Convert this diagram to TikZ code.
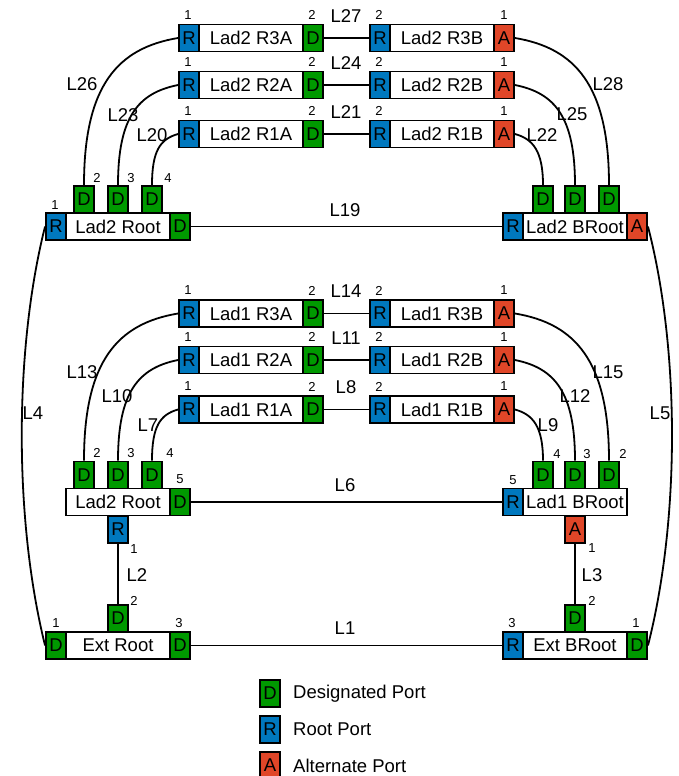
\documentclass[tikz,border=0pt]{standalone}
\usepackage{fontspec}
\setmainfont{Liberation Sans}
\definecolor{dgreen}{RGB}{0,153,0}
\definecolor{rblue}{RGB}{0,120,190}
\definecolor{ared}{RGB}{224,70,40}
\begin{document}
\begin{tikzpicture}[x=1pt,y=-1pt,
  box/.style={draw, line width=1.9pt, fill=white, minimum width=104pt, minimum height=27pt, inner sep=0pt, font=\fontsize{18.5}{20}\selectfont},
  port/.style={draw, line width=1.9pt, minimum width=20pt, minimum height=27pt, inner sep=0pt, font=\fontsize{18.5}{20}\selectfont},
  dp/.style={port, fill=dgreen},
  rp/.style={port, fill=rblue},
  ap/.style={port, fill=ared},
  num/.style={font=\fontsize{13}{14}\selectfont, inner sep=0pt},
  lbl/.style={font=\fontsize{18.5}{20}\selectfont, inner sep=0pt},
  link/.style={line width=1.8pt}]
\useasboundingbox (0,0) rectangle (678,776);

% ---------- Ladder rows ----------
\foreach \r/\y/\l/\ld in {3/38/27/2, 2/85/24/2, 1/134/21/2, 3/313.5/14/1, 2/360/11/1, 1/409.5/8/1} {
  \node[box] (L\ld r\r A) at (251,\y) {Lad\ld\ R\r A};
  \node[rp] (L\ld r\r AR) at (189,\y) {R};
  \node[dp] (L\ld r\r AD) at (313,\y) {D};
  \node[box] (L\ld r\r B) at (442,\y) {Lad\ld\ R\r B};
  \node[rp] (L\ld r\r BR) at (380,\y) {R};
  \node[ap] (L\ld r\r BA) at (504,\y) {A};
  \node[num] (n\ld r\r a) at (188,\y-23) {1};
  \node[num] (n\ld r\r b) at (312,\y-23) {2};
  \node[num] (n\ld r\r c) at (379,\y-23) {2};
  \node[num] (n\ld r\r d) at (504,\y-23) {1};
  \draw[link] (L\ld r\r AD) -- (L\ld r\r BR);
  \node[lbl] (k\ld r\r) at (346,\y-22) {L\l};
}

% ---------- Lad2 Root (top) ----------
\node[box] (t2root) at (118,226.5) {Lad2 Root};
\node[rp] (t2rootR) at (56,226.5) {R};
\node[dp] (t2rootD) at (180,226.5) {D};
\node[dp] (t2p2) at (84,199.5) {D};
\node[dp] (t2p3) at (118,199.5) {D};
\node[dp] (t2p4) at (152,199.5) {D};
\node[num] (t2n1) at (55,205) {1};
\node[num] (t2n2) at (97,178) {2};
\node[num] (t2n3) at (131,178) {3};
\node[num] (t2n4) at (168,178) {4};

% ---------- Lad2 BRoot ----------
\node[box] (t2broot) at (575,226.5) {Lad2 BRoot};
\node[rp] (t2brootR) at (513,226.5) {R};
\node[ap] (t2brootA) at (637,226.5) {A};
\node[dp] (t2bp1) at (543,199.5) {D};
\node[dp] (t2bp2) at (575,199.5) {D};
\node[dp] (t2bp3) at (609,199.5) {D};

% ---------- Lad2 Root (lower) ----------
\node[box] (l1root) at (118,502) {Lad2 Root};
\node[dp] (l1rootD) at (180,502) {D};
\node[dp] (l1p2) at (84,475) {D};
\node[dp] (l1p3) at (118,475) {D};
\node[dp] (l1p4) at (152,475) {D};
\node[rp] (l1rootR) at (118,529.5) {R};
\node[num] (l1n2) at (97,453) {2};
\node[num] (l1n3) at (131,453) {3};
\node[num] (l1n4) at (170,453) {4};
\node[num] (l1n5) at (180,479) {5};
\node[num] (l1n1) at (134,549) {1};

% ---------- Lad1 BRoot ----------
\node[box] (l1broot) at (575,502) {Lad1 BRoot};
\node[rp] (l1brootR) at (513,502) {R};
\node[dp] (l1bp4) at (543,475) {D};
\node[dp] (l1bp3) at (575,475) {D};
\node[dp] (l1bp2) at (609,475) {D};
\node[ap] (l1brootA) at (575,529.5) {A};
\node[num] (l1bn5) at (513,480) {5};
\node[num] (l1bn4) at (557,454) {4};
\node[num] (l1bn3) at (587,454) {3};
\node[num] (l1bn2) at (623,454) {2};
\node[num] (l1bn1) at (592,548) {1};

% ---------- Ext Root ----------
\node[box] (ext) at (118,645.5) {Ext Root};
\node[dp] (extD1) at (56,645.5) {D};
\node[dp] (extD3) at (180,645.5) {D};
\node[dp] (extD2) at (118,618.5) {D};
\node[num] (extn1) at (56,623) {1};
\node[num] (extn3) at (179,623) {3};
\node[num] (extn2) at (134,601) {2};

% ---------- Ext BRoot ----------
\node[box] (extb) at (575,645.5) {Ext BRoot};
\node[rp] (extbR) at (513,645.5) {R};
\node[dp] (extbD1) at (637,645.5) {D};
\node[dp] (extbD2) at (575,618.5) {D};
\node[num] (extbn3) at (512,623) {3};
\node[num] (extbn1) at (636,623) {1};
\node[num] (extbn2) at (592,601) {2};

% ---------- Straight links ----------
\draw[link] (t2rootD) -- (t2brootR);
\draw[link] (l1rootD) -- (l1brootR);
\draw[link] (extD3) -- (extbR);
\draw[link] (l1rootR) -- (extD2);
\draw[link] (l1brootA) -- (extbD2);

% ---------- Curved links, Lad2 ----------
\draw[link] (L2r3AR.west) .. controls +(-60,10) and +(0,-100) .. (t2p2.north);
\draw[link] (L2r2AR.west) .. controls +(-40,8) and +(0,-68) .. (t2p3.north);
\draw[link] (L2r1AR.west) .. controls +(-18,5) and +(0,-34) .. (t2p4.north);
\draw[link] (L2r3BA.east) .. controls +(60,10) and +(0,-100) .. (t2bp3.north);
\draw[link] (L2r2BA.east) .. controls +(40,8) and +(0,-68) .. (t2bp2.north);
\draw[link] (L2r1BA.east) .. controls +(18,5) and +(0,-34) .. (t2bp1.north);

% ---------- Curved links, Lad1 ----------
\draw[link] (L1r3AR.west) .. controls +(-60,10) and +(0,-100) .. (l1p2.north);
\draw[link] (L1r2AR.west) .. controls +(-40,8) and +(0,-68) .. (l1p3.north);
\draw[link] (L1r1AR.west) .. controls +(-18,5) and +(0,-34) .. (l1p4.north);
\draw[link] (L1r3BA.east) .. controls +(60,10) and +(0,-100) .. (l1bp2.north);
\draw[link] (L1r2BA.east) .. controls +(40,8) and +(0,-68) .. (l1bp3.north);
\draw[link] (L1r1BA.east) .. controls +(18,5) and +(0,-34) .. (l1bp4.north);

% ---------- Outer links ----------
\draw[link] (t2rootR.west) .. controls (14,350) and (14,520) .. (extD1.west);
\draw[link] (t2brootA.east) .. controls (680,350) and (680,520) .. (extbD1.east);

% ---------- Link labels ----------
\node[lbl] (kL19) at (345,210) {L19};
\node[lbl] (kL6) at (345,485) {L6};
\node[lbl] (kL1) at (345,628) {L1};
\node[lbl] (kL26) at (82,84) {L26};
\node[lbl] (kL23) at (123,115) {L23};
\node[lbl] (kL20) at (152,135) {L20};
\node[lbl] (kL28) at (608,84) {L28};
\node[lbl] (kL25) at (572,114) {L25};
\node[lbl] (kL22) at (542,135) {L22};
\node[lbl] (kL13) at (82,372) {L13};
\node[lbl] (kL10) at (117,396) {L10};
\node[lbl] (kL7) at (148,425) {L7};
\node[lbl] (kL15) at (608,372) {L15};
\node[lbl] (kL12) at (575,396) {L12};
\node[lbl] (kL9) at (548,425) {L9};
\node[lbl] (kL4) at (33,413) {L4};
\node[lbl] (kL5) at (660,413) {L5};
\node[lbl] (kL2) at (137,575) {L2};
\node[lbl] (kL3) at (592,575) {L3};

% ---------- Legend ----------
\node[dp] (legD) at (270,693.5) {D};
\node[rp] (legR) at (270,729.5) {R};
\node[ap] (legA) at (270,765.5) {A};
\node[lbl, anchor=west] (legDt) at (293,693.5) {Designated Port};
\node[lbl, anchor=west] (legRt) at (293,729.5) {Root Port};
\node[lbl, anchor=west] (legAt) at (293,765.5) {Alternate Port};
\end{tikzpicture}
\end{document}
